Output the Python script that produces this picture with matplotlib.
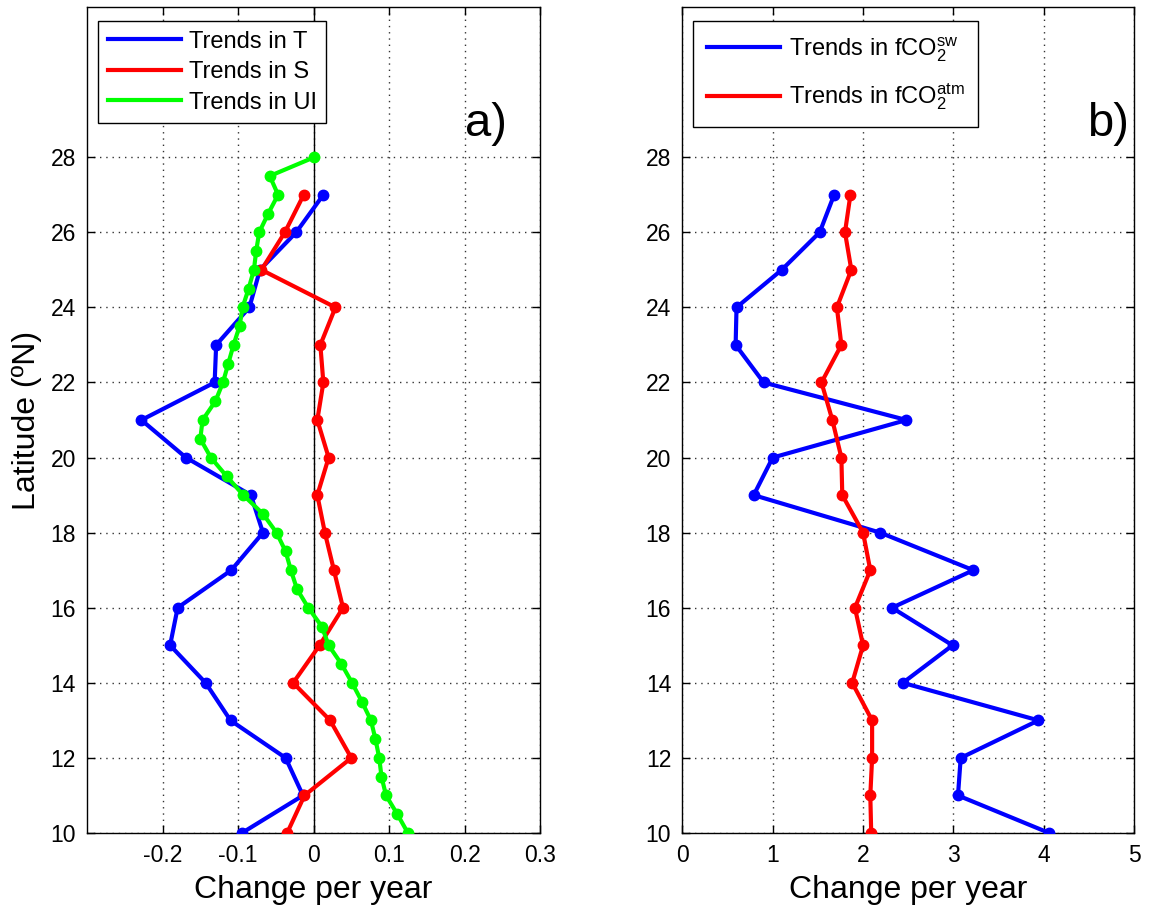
import matplotlib
matplotlib.use("Agg")
import matplotlib.pyplot as plt
from matplotlib.lines import Line2D

plt.rcParams['font.family'] = ['Liberation Sans', 'DejaVu Sans']
plt.rcParams['mathtext.fontset'] = 'custom'
plt.rcParams['mathtext.rm'] = 'Liberation Sans'

# Panel a: trends in temperature, salinity and upwelling index
lat_ts = list(range(10, 28))
trend_T = [-0.095, -0.014, -0.037, -0.110, -0.143, -0.190, -0.180, -0.109, -0.067,
           -0.083, -0.169, -0.228, -0.131, -0.129, -0.085, -0.071, -0.023, 0.013]
trend_S = [-0.035, -0.012, 0.050, 0.022, -0.027, 0.008, 0.039, 0.027, 0.015,
           0.005, 0.020, 0.005, 0.013, 0.009, 0.029, -0.069, -0.038, -0.013]

lat_ui = [10 + 0.5 * i for i in range(37)]
trend_UI = [0.125, 0.111, 0.096, 0.090, 0.087, 0.082, 0.076, 0.064, 0.051, 0.037,
            0.020, 0.011, -0.007, -0.022, -0.030, -0.037, -0.049, -0.067, -0.093,
            -0.115, -0.136, -0.150, -0.147, -0.130, -0.120, -0.113, -0.106, -0.098,
            -0.094, -0.086, -0.079, -0.076, -0.072, -0.060, -0.047, -0.058, 0.001]

# Panel b: trends in seawater and atmospheric fCO2
lat_co2 = list(range(10, 28))
trend_sw = [4.06, 3.05, 3.08, 3.94, 2.44, 2.99, 2.32, 3.22, 2.19,
            0.79, 1.00, 2.48, 0.90, 0.59, 0.60, 1.10, 1.52, 1.68]
trend_atm = [2.09, 2.08, 2.10, 2.10, 1.88, 2.00, 1.91, 2.08, 2.00,
             1.77, 1.76, 1.66, 1.54, 1.76, 1.71, 1.87, 1.80, 1.86]

lat_ticks = list(range(10, 29, 2))
xticks_a = [-0.2, -0.1, 0, 0.1, 0.2, 0.3]
xticks_b = [0, 1, 2, 3, 4, 5]

BLUE, RED, GREEN = (0, 0, 1), (1, 0, 0), (0, 1, 0)
LW, MS = 3, 7.5


def style_axes(ax, xlim, xticks, xtick_labels):
    ax.set_xlim(*xlim)
    ax.set_ylim(10, 32)
    ax.set_xticks(xticks)
    ax.set_xticklabels(xtick_labels)
    ax.set_yticks(lat_ticks)
    ax.grid(True, linestyle=(0, (1, 3.5)), color='0.2', linewidth=1)
    ax.set_axisbelow(True)
    ax.tick_params(direction='in', top=True, right=True, length=6,
                   width=1, labelsize=16.5, pad=8)
    for sp in ax.spines.values():
        sp.set_linewidth(1)
        sp.set_color('k')
    ax.set_xlabel('Change per year', fontsize=23, labelpad=6)


fig = plt.figure(figsize=(11.5, 9.15), dpi=100)
ax1 = fig.add_axes([0.0757, 0.0896, 0.3939, 0.9027])
ax2 = fig.add_axes([0.5933, 0.0896, 0.3930, 0.9027])

# --- a) ---
ax1.axvline(0, color='k', linewidth=1, zorder=1)
ax1.plot(trend_T, lat_ts, '-o', color=BLUE, lw=LW, ms=MS, zorder=3)
ax1.plot(trend_S, lat_ts, '-o', color=RED, lw=LW, ms=MS, zorder=3)
ax1.plot(trend_UI, lat_ui, '-o', color=GREEN, lw=LW, ms=MS, zorder=3)
style_axes(ax1, (-0.3, 0.3), xticks_a, ['-0.2', '-0.1', '0', '0.1', '0.2', '0.3'])
ax1.set_ylabel('Latitude (ºN)', fontsize=23, labelpad=6)
ax1.text(0.2, 28.56, 'a)', fontsize=34, ha='left', va='baseline')

handles_a = [Line2D([], [], color=c, lw=LW) for c in (BLUE, RED, GREEN)]
ax1.legend(handles_a, ['Trends in T', 'Trends in S', 'Trends in UI'],
           loc='upper left', bbox_to_anchor=(0.0243, 0.983), borderaxespad=0,
           fontsize=17, handlelength=3.1, handletextpad=0.35, labelspacing=0.36,
           borderpad=0.4, fancybox=False, framealpha=1, edgecolor='k')

# --- b) ---
ax2.plot(trend_sw, lat_co2, '-o', color=BLUE, lw=LW, ms=MS, zorder=3)
ax2.plot(trend_atm, lat_co2, '-o', color=RED, lw=LW, ms=MS, zorder=3)
style_axes(ax2, (0, 5), xticks_b, [str(v) for v in xticks_b])
ax2.text(4.48, 28.56, 'b)', fontsize=34, ha='left', va='baseline')

handles_b = [Line2D([], [], color=c, lw=LW) for c in (BLUE, RED)]
ax2.legend(handles_b,
           [r'Trends in fCO$\mathregular{_2^{sw}}$',
            r'Trends in fCO$\mathregular{_2^{atm}}$'],
           loc='upper left', bbox_to_anchor=(0.0237, 0.983), borderaxespad=0,
           fontsize=17, handlelength=3.1, handletextpad=0.35, labelspacing=0.75,
           borderpad=0.6, fancybox=False, framealpha=1, edgecolor='k')

fig.savefig('out.png', dpi=100)
